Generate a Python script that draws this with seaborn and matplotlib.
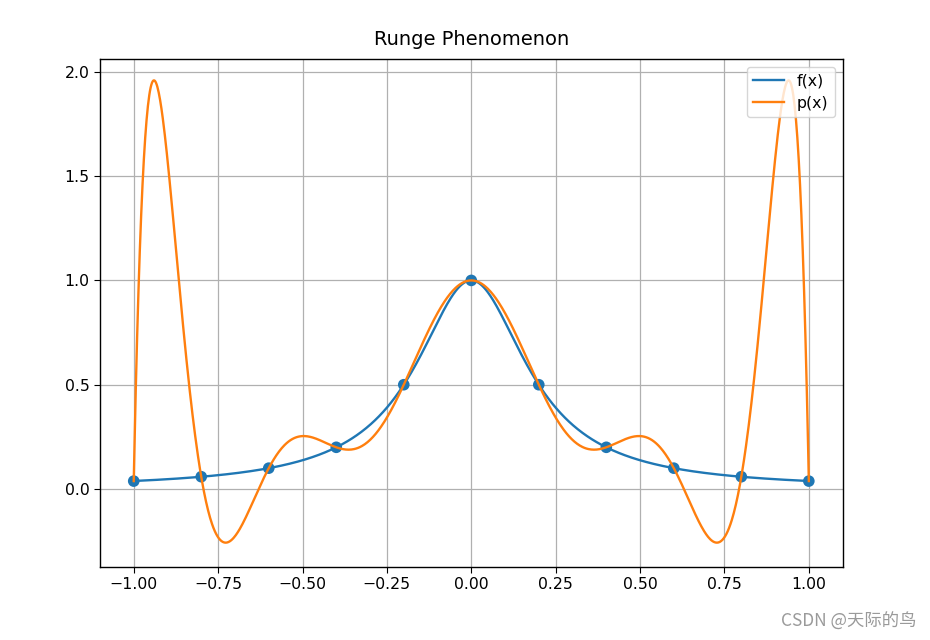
import numpy as np
import pandas as pd
import matplotlib
matplotlib.use("Agg")
import matplotlib.pyplot as plt
import seaborn as sns

# Interpolation nodes (11 equispaced points)
x_nodes = [-1.0, -0.8, -0.6, -0.4, -0.2, 0.0, 0.2, 0.4, 0.6, 0.8, 1.0]
y_nodes = [0.038, 0.059, 0.1, 0.2, 0.5, 1.0, 0.5, 0.2, 0.1, 0.059, 0.038]
x_ticks = [-1.0, -0.75, -0.5, -0.25, 0.0, 0.25, 0.5, 0.75, 1.0]
y_ticks = [0.0, 0.5, 1.0, 1.5, 2.0]
title = "Runge Phenomenon"
labels = ["f(x)", "p(x)"]
watermark = "CSDN @天际的鸟"

# Curves: the Runge function and the degree-10 polynomial through the nodes
xs = np.linspace(-1, 1, 1000)
f_vals = 1.0 / (1.0 + 25.0 * xs ** 2)
poly = np.polynomial.Polynomial.fit(x_nodes, y_nodes, len(x_nodes) - 1)
p_vals = poly(xs)

df = pd.DataFrame({
    "x": np.concatenate([xs, xs]),
    "y": np.concatenate([f_vals, p_vals]),
    "curve": [labels[0]] * len(xs) + [labels[1]] * len(xs),
})
nodes = pd.DataFrame({"x": x_nodes, "y": y_nodes})

plt.rcParams["font.size"] = 11.3
plt.rcParams["xtick.major.size"] = 4
plt.rcParams["ytick.major.size"] = 4
plt.rcParams["axes.linewidth"] = 1.0
fig, ax = plt.subplots(figsize=(9.3, 6.4), dpi=100)
fig.subplots_adjust(left=0.1075, right=0.906, bottom=0.114, top=0.908)

sns.scatterplot(data=nodes, x="x", y="y", ax=ax, color="#1f77b4", s=70,
                edgecolor="none", legend=False, zorder=1)
sns.lineplot(data=df, x="x", y="y", hue="curve", ax=ax,
             palette=["#1f77b4", "#ff7f0e"], linewidth=1.7, sort=False,
             estimator=None, zorder=2)

ax.set_xlim(-1.1, 1.1)
ax.set_ylim(-0.374, 2.062)
ax.set_xticks(x_ticks)
ax.set_yticks(y_ticks)
ax.set_xlabel("")
ax.set_ylabel("")
ax.grid(True, color="#b0b0b0", linewidth=0.9)
ax.set_axisbelow(True)
ax.set_title(title, fontsize=14.0, pad=10)
leg = ax.legend(loc="upper right", fontsize=11.3, borderaxespad=0.5)
leg.set_title(None)

fig.text(0.986, 0.015, watermark, ha="right", va="bottom", fontsize=12.5,
         color="#9a9a9a", family=["Noto Sans CJK SC", "DejaVu Sans"])

fig.savefig("out.png", dpi=100)
